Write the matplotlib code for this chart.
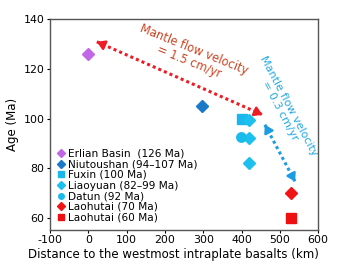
import matplotlib
matplotlib.use("Agg")
import matplotlib.pyplot as plt

plt.rcParams["font.family"] = ["DejaVu Sans"]
plt.rcParams["axes.unicode_minus"] = False

# sample groups: name, marker, colour, distances (km), ages (Ma)
names = ["Erlian Basin  (126 Ma)", "Niutoushan (94\u2013107 Ma)", "Fuxin (100 Ma)",
         "Liaoyuan (82\u201399 Ma)", "Datun (92 Ma)", "Laohutai (70 Ma)", "Laohutai (60 Ma)"]
markers = ["D", "D", "s", "D", "o", "D", "s"]
colors = ["#c066e6", "#1a7ac8", "#18b8ec", "#1cc0ee", "#18bbea", "#f01414", "#ee1010"]
dist = [[0], [298], [400], [420, 420, 420], [398], [530], [530]]
age = [[126], [105], [100], [99.5, 92, 82], [92.5], [70], [60]]

# mantle flow arrows (start, end)
red_arrow = [(22, 131), (455, 101.5)]
blue_arrow = [(461, 97.5), (540, 74.5)]

fig = plt.figure(figsize=(3.48, 2.67), dpi=100)
ax = fig.add_axes([0.144, 0.139, 0.77, 0.788])
ax.set_xlim(-100, 600)
ax.set_ylim(55, 140)

handles = []
for n, m, c, xs, ys in zip(names, markers, colors, dist, age):
    ms = 6.5 if m == "D" else 6.8
    ax.plot(xs, ys, ls="none", marker=m, color=c, ms=ms, mec=c, zorder=3)
    h, = ax.plot([], [], ls="none", marker=m, color=c, ms=4, mec=c, label=n)
    handles.append(h)


def flow_arrow(p0, p1, color):
    ax.plot([p0[0], p1[0]], [p0[1], p1[1]], ls=(0, (1, 1)), lw=2.2, color=color, zorder=2)
    d0 = ax.transData.transform(p0)
    d1 = ax.transData.transform(p1)
    length = ((d1 - d0) ** 2).sum() ** 0.5
    frac = 8 / length
    for a, b in [(p0, p1), (p1, p0)]:
        tail = (a[0] + (b[0] - a[0]) * frac, a[1] + (b[1] - a[1]) * frac)
        ax.annotate("", xy=a, xytext=tail,
                    arrowprops=dict(arrowstyle="-|>,head_length=0.45,head_width=0.28",
                                    color=color, lw=1.8, shrinkA=0, shrinkB=0), zorder=4)


flow_arrow(*red_arrow, "#ee1c24")
flow_arrow(*blue_arrow, "#1c9ce2")

ax.text(270, 125.3, "Mantle flow velocity\n= 1.5 cm/yr", color="#cc4422", fontsize=8.3,
        rotation=-22, ha="center", va="center", linespacing=1.0, rotation_mode="anchor")
ax.text(512, 104, "Mantle flow velocity\n= 0.3 cm/yr", color="#22a8e4", fontsize=8.0,
        rotation=-62, ha="center", va="center", linespacing=1.0, rotation_mode="anchor")

ax.set_xticks(range(-100, 601, 100))
ax.set_yticks(range(60, 141, 20))
ax.tick_params(labelsize=7.9, length=2.5, width=0.8, pad=1.5)
for s in ax.spines.values():
    s.set_color("#555555")
    s.set_linewidth(1.0)
ax.set_xlabel("Distance to the westmost intraplate basalts (km)", fontsize=8.5, labelpad=1)
ax.xaxis.set_label_coords(0.46, -0.085)
ax.set_ylabel("Age (Ma)", fontsize=8.5, labelpad=3)

ax.legend(handles=handles, loc="lower left", frameon=False, fontsize=7.6,
          handlelength=0.6, handletextpad=0.4, labelspacing=0.06,
          borderaxespad=0.3, bbox_to_anchor=(0.0, 0.0))

fig.savefig("out.png", dpi=100)
